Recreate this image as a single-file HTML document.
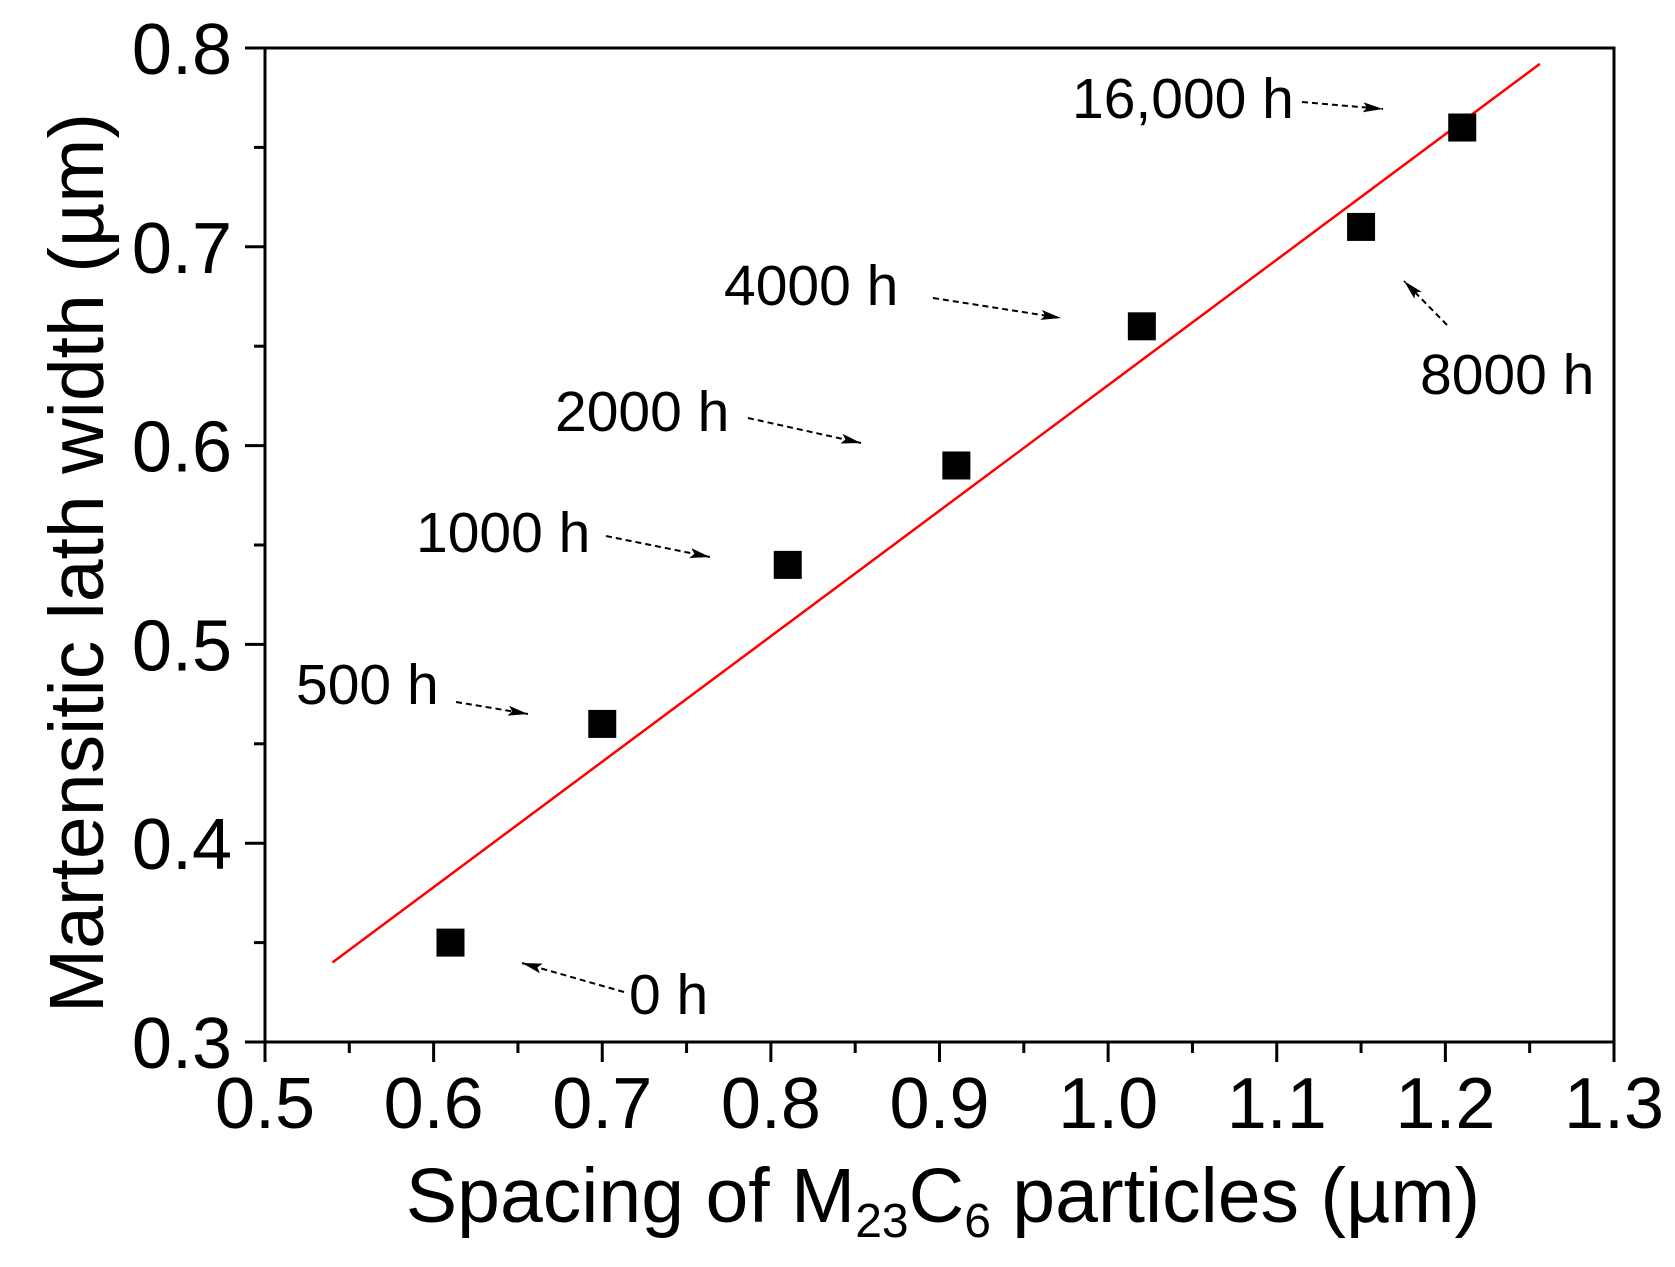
<!DOCTYPE html>
<html><head><meta charset="utf-8"><style>
html,body{margin:0;padding:0;background:#fff;}
svg{display:block;font-family:"Liberation Sans",Arial,sans-serif;}
</style></head><body>
<svg id="chart" width="1675" height="1267" viewBox="0 0 1675 1267" xmlns="http://www.w3.org/2000/svg">
<defs>
<marker id="ah2" viewBox="0 0 20 10" markerWidth="20" markerHeight="10" refX="20" refY="5" orient="auto" markerUnits="userSpaceOnUse"><path d="M0,0 L20,5 L0,10 L4,5 z" fill="#000"/></marker></defs>
<g id="plot"></g>
</svg>
<script>
const xData=[0.61,0.70,0.81,0.91,1.02,1.15,1.21];
const yData=[0.35,0.46,0.54,0.59,0.66,0.71,0.76];
const fitX=[0.54,1.256];
const fitY=[0.34,0.792];
const xTicks=[0.5,0.6,0.7,0.8,0.9,1.0,1.1,1.2,1.3];
const xTickLabels=["0.5","0.6","0.7","0.8","0.9","1.0","1.1","1.2","1.3"];
const yTicks=[0.3,0.4,0.5,0.6,0.7,0.8];
const yTickLabels=["0.3","0.4","0.5","0.6","0.7","0.8"];
const annLabels=["16,000 h","4000 h","8000 h","2000 h","1000 h","500 h","0 h"];

const L=265,R=1614,T=48,B=1042;
const xs=v=>L+(v-0.5)/0.8*(R-L);
const ys=v=>B-(v-0.3)/0.5*(B-T);
const NS="http://www.w3.org/2000/svg";
const g=document.getElementById('plot');
function mk(tag,attrs,parent){const e=document.createElementNS(NS,tag);for(const k in attrs)e.setAttribute(k,attrs[k]);(parent||g).appendChild(e);return e;}

let frame=mk('rect',{x:L,y:T,width:R-L,height:B-T,fill:'none',stroke:'#000','stroke-width':3});



for(let i=0;i<xTicks.length;i++){
  const x=xs(xTicks[i]);
  let t=mk('line',{x1:x,x2:x,y1:B,y2:B+20,stroke:'#000','stroke-width':3});
  
  
  let lb=mk('text',{x:x,y:B+86,'font-size':72,'text-anchor':'middle'});
  lb.textContent=xTickLabels[i];
  
  
  if(i<xTicks.length-1){
    const xm=xs(xTicks[i]+0.05);
    let m=mk('line',{x1:xm,x2:xm,y1:B,y2:B+11,stroke:'#000','stroke-width':3});
    
    
  }
}
for(let i=0;i<yTicks.length;i++){
  const y=ys(yTicks[i]);
  let t=mk('line',{x1:L-20,x2:L,y1:y,y2:y,stroke:'#000','stroke-width':3});
  
  
  let lb=mk('text',{x:L-33,y:y+26,'font-size':72,'text-anchor':'end'});
  lb.textContent=yTickLabels[i];
  
  
  if(i<yTicks.length-1){
    const ym=ys(yTicks[i]+0.05);
    let m=mk('line',{x1:L-11,x2:L,y1:ym,y2:ym,stroke:'#000','stroke-width':3});
    
    
  }
}
let fl=mk('line',{x1:xs(fitX[0]),y1:ys(fitY[0]),x2:xs(fitX[1]),y2:ys(fitY[1]),stroke:'#f00','stroke-width':2.5});


for(let i=0;i<xData.length;i++){
  let p=mk('rect',{x:xs(xData[i])-14,y:ys(yData[i])-14,width:28,height:28,fill:'#000'});
  
  
}
const ann=[
 [1072,118,1302,102,1383,109],
 [724,305,933,298,1061,318],
 [1420,394,1447,325,1404,281],
 [555,431,748,418,861,443],
 [416,552,606,536,710,557],
 [296,704,456,702,528,714],
 [629,1014,624,992,522,963]
];
for(let i=0;i<ann.length;i++){
  const a=ann[i];
  let t=mk('text',{x:a[0],y:a[1],'font-size':57});
  t.textContent=annLabels[i];
  
  
  let ar=mk('line',{x1:a[2],y1:a[3],x2:a[4],y2:a[5],stroke:'#000','stroke-width':2,'stroke-dasharray':'6,4','marker-end':'url(#ah2)'});
  
  
}
let xt=mk('text',{x:943,y:1222,'font-size':77,'text-anchor':'middle'});
xt.innerHTML='Spacing of M<tspan font-size="48" dy="15">23</tspan><tspan dy="-15">C</tspan><tspan font-size="48" dy="15">6</tspan><tspan dy="-15"> particles (µm)</tspan>';


let yt=mk('text',{x:0,y:0,'font-size':77,'text-anchor':'middle',transform:'translate(103,563) rotate(-90)'});
yt.textContent='Martensitic lath width (µm)';


</script>
</body></html>
